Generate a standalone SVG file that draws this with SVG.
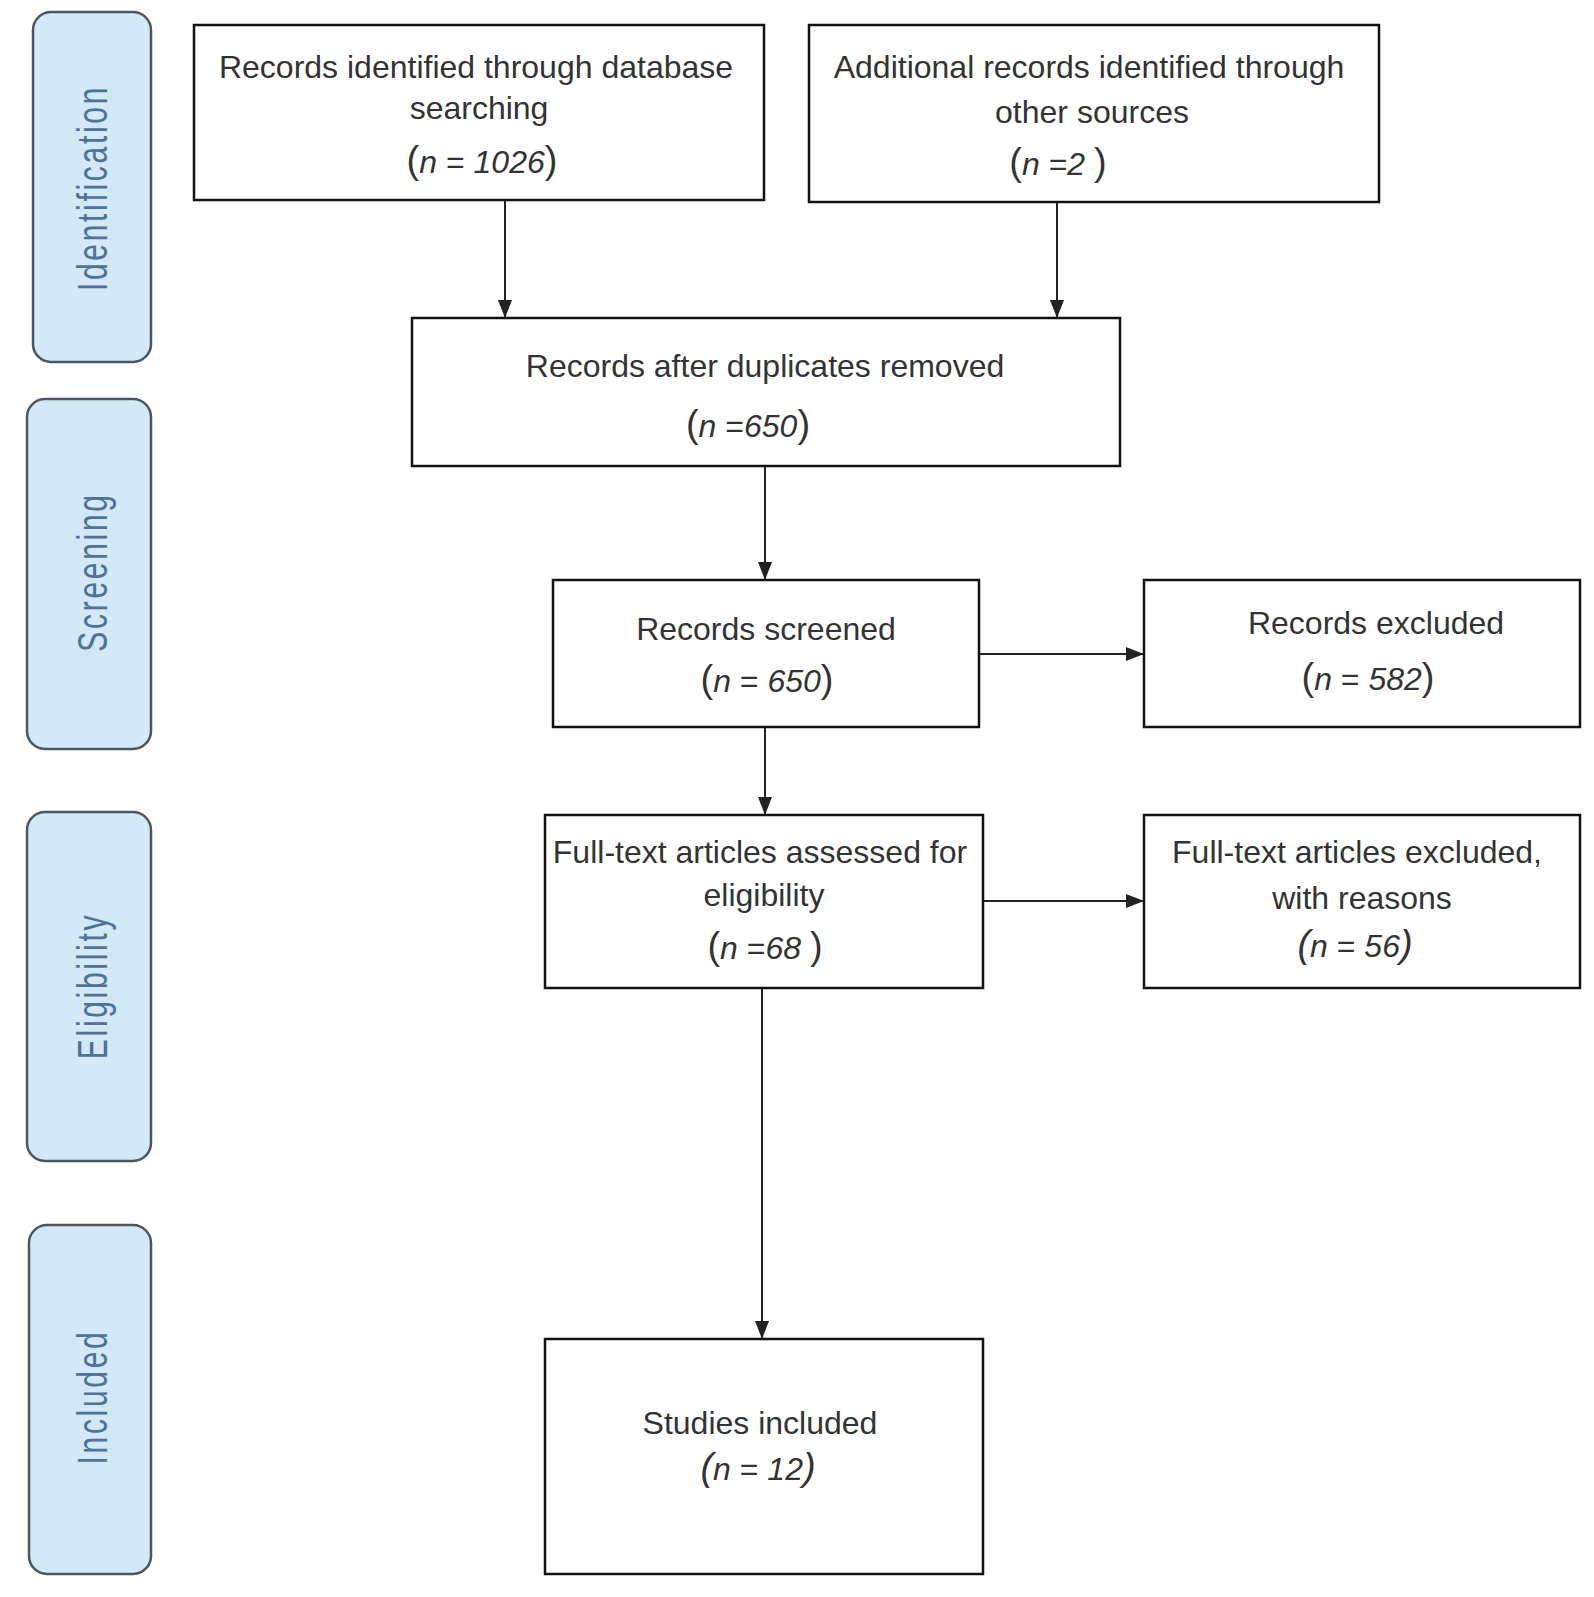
<svg xmlns="http://www.w3.org/2000/svg" width="1594" height="1597" viewBox="0 0 1594 1597">
<style>
.lane{fill:#d3e9f8;stroke:#4d5761;stroke-width:2.5}
.lbl{font-family:"Liberation Sans",Arial,sans-serif;font-size:30px;fill:#4f7396;letter-spacing:2.7px;text-anchor:middle}
.box{fill:#ffffff;stroke:#111;stroke-width:2.5}
.t{font-family:"Liberation Sans",Arial,sans-serif;font-size:32px;fill:#333;text-anchor:middle}
.p{font-size:38px}
.i{font-style:italic}
.c{fill:none;stroke:#222;stroke-width:2}
</style>
<defs>
<marker id="ah" markerUnits="userSpaceOnUse" markerWidth="18" markerHeight="16" refX="18" refY="8" orient="auto">
<path d="M0,1 L18,8 L0,15 z" fill="#222"/>
</marker>
</defs>
<rect width="1594" height="1597" fill="#ffffff"/>
<g id="lane-identification">
<rect class="lane" x="33" y="12" width="118" height="350" rx="18"/>
<text class="lbl" transform="translate(107,188) scale(1.4,1) rotate(-90)">Identification</text>
</g>
<g id="lane-screening">
<rect class="lane" x="27" y="399" width="124" height="350" rx="18"/>
<text class="lbl" transform="translate(107,572) scale(1.4,1) rotate(-90)">Screening</text>
</g>
<g id="lane-eligibility">
<rect class="lane" x="27" y="812" width="124" height="349" rx="18"/>
<text class="lbl" transform="translate(107,986) scale(1.4,1) rotate(-90)">Eligibility</text>
</g>
<g id="lane-included">
<rect class="lane" x="29" y="1225" width="122" height="349" rx="18"/>
<text class="lbl" transform="translate(107,1397) scale(1.4,1) rotate(-90)">Included</text>
</g>
<g id="connectors">
<line class="c" x1="505" y1="200" x2="505" y2="318" marker-end="url(#ah)"/>
<line class="c" x1="1057" y1="202" x2="1057" y2="318" marker-end="url(#ah)"/>
<line class="c" x1="765" y1="466" x2="765" y2="580" marker-end="url(#ah)"/>
<line class="c" x1="979" y1="654" x2="1144" y2="654" marker-end="url(#ah)"/>
<line class="c" x1="765" y1="727" x2="765" y2="815" marker-end="url(#ah)"/>
<line class="c" x1="983" y1="901" x2="1144" y2="901" marker-end="url(#ah)"/>
<line class="c" x1="762" y1="988" x2="762" y2="1339" marker-end="url(#ah)"/>
</g>
<g id="node-db">
<rect class="box" x="194" y="25" width="570" height="175"/>
<text class="t" x="476" y="78">Records identified through database</text>
<text class="t" x="479" y="119">searching</text>
<text class="t" x="482" y="173"><tspan class="p">(</tspan><tspan class="i">n</tspan> = <tspan class="i">1026</tspan><tspan class="p">)</tspan></text>
</g>
<g id="node-other">
<rect class="box" x="809" y="25" width="570" height="177"/>
<text class="t" x="1089" y="78">Additional records identified through</text>
<text class="t" x="1092" y="123">other sources</text>
<text class="t" x="1058" y="175"><tspan class="p">(</tspan><tspan class="i">n</tspan> =<tspan class="i">2</tspan> <tspan class="p">)</tspan></text>
</g>
<g id="node-dedup">
<rect class="box" x="412" y="318" width="708" height="148"/>
<text class="t" x="765" y="377">Records after duplicates removed</text>
<text class="t" x="748" y="437"><tspan class="p">(</tspan><tspan class="i">n</tspan> =<tspan class="i">650</tspan><tspan class="p">)</tspan></text>
</g>
<g id="node-screened">
<rect class="box" x="553" y="580" width="426" height="147"/>
<text class="t" x="766" y="640">Records screened</text>
<text class="t" x="767" y="692"><tspan class="p">(</tspan><tspan class="i">n</tspan> = <tspan class="i">650</tspan><tspan class="p">)</tspan></text>
</g>
<g id="node-excluded">
<rect class="box" x="1144" y="580" width="436" height="147"/>
<text class="t" x="1376" y="634">Records excluded</text>
<text class="t" x="1368" y="690"><tspan class="p">(</tspan><tspan class="i">n</tspan> = <tspan class="i">582</tspan><tspan class="p">)</tspan></text>
</g>
<g id="node-fulltext">
<rect class="box" x="545" y="815" width="438" height="173"/>
<text class="t" x="760" y="863">Full-text articles assessed for</text>
<text class="t" x="764" y="906">eligibility</text>
<text class="t" x="765" y="959"><tspan class="p">(</tspan><tspan class="i">n</tspan> =<tspan class="i">68</tspan> <tspan class="p">)</tspan></text>
</g>
<g id="node-ft-excluded">
<rect class="box" x="1144" y="815" width="436" height="173"/>
<text class="t" x="1357" y="863">Full-text articles excluded,</text>
<text class="t" x="1362" y="909">with reasons</text>
<text class="t" x="1355" y="957"><tspan class="p i">(</tspan><tspan class="i">n</tspan> = <tspan class="i">56</tspan><tspan class="p i">)</tspan></text>
</g>
<g id="node-included">
<rect class="box" x="545" y="1339" width="438" height="235"/>
<text class="t" x="760" y="1434">Studies included</text>
<text class="t" x="758" y="1480"><tspan class="p i">(</tspan><tspan class="i">n</tspan> = <tspan class="i">12</tspan><tspan class="p i">)</tspan></text>
</g>
</svg>
